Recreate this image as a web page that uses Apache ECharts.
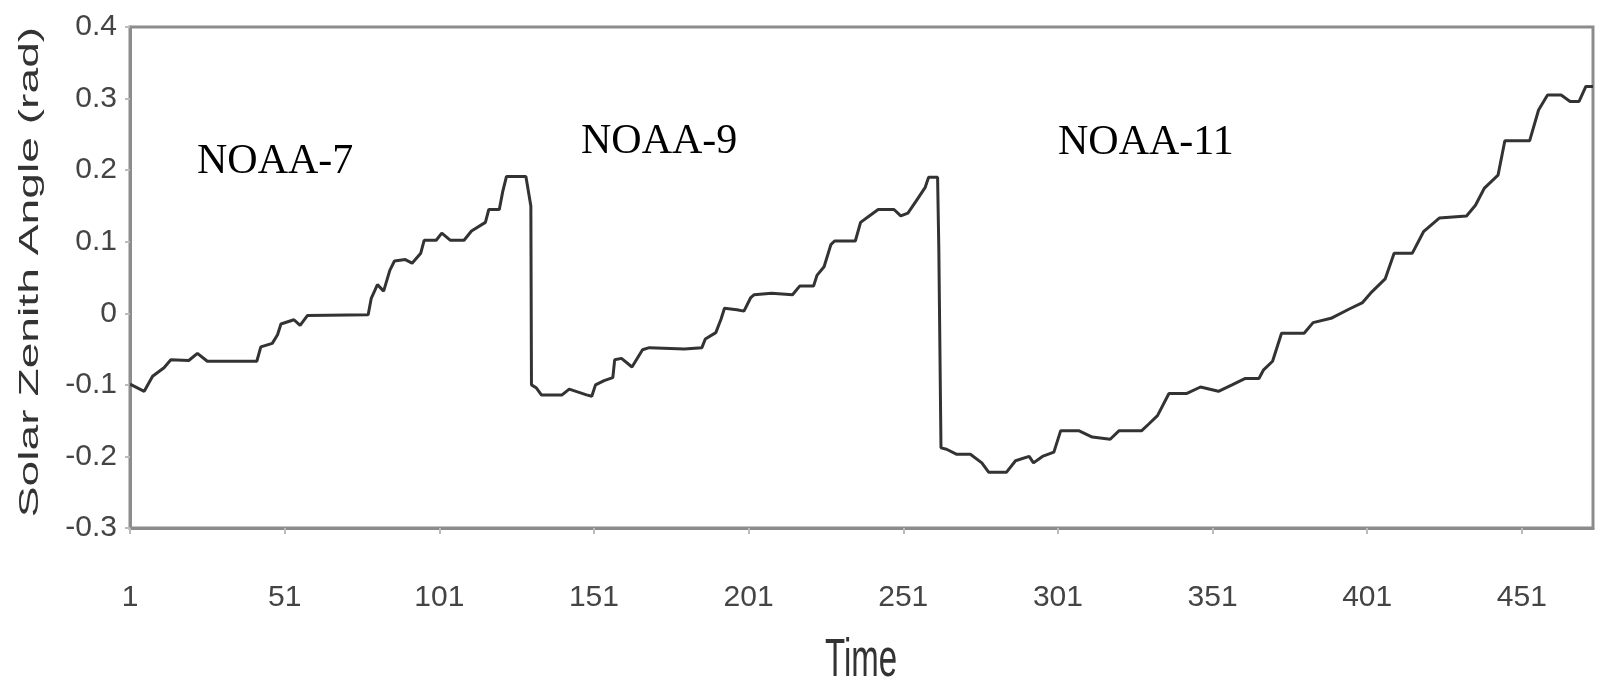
<!DOCTYPE html>
<html>
<head>
<meta charset="utf-8">
<script src="https://cdn.jsdelivr.net/npm/echarts@6/dist/echarts.min.js"></script>
<style>
    html, body { margin: 0; padding: 0; background: #fff; }
    #chart { width: 1606px; height: 681px; }
</style>
</head>
<body>
<div id="chart"></div>
<script>

// time step (x) and solar zenith angle (y) at each vertex of the trace
var timeSteps = [
    1, 5.6, 8.3, 12, 14.2, 20, 22.8, 26, 42, 43.3, 47, 48.7, 49.8, 54, 56, 58.4, 78, 79, 81, 83,
    85, 86.5, 90, 92.2, 95, 96.1, 100, 101.8, 104.6, 109, 111.4, 115.9, 117, 120.4, 121.5, 122.7, 129, 130.6, 130.8,
    132.3, 134, 140.7, 143, 148.6, 150.3, 151.5, 154.3, 157.1, 157.7, 159.9, 163.3, 166.7, 168.9, 180.2, 185.9, 187, 190.4, 192.1, 193.2,
    197.2, 199.5, 201.7, 202.8, 208.4, 215.2, 217.5, 222, 223.1, 225.4, 227.6, 228.8, 235.5, 237.2, 240, 242.9, 248, 250.2, 252.5, 255.2,
    258.1, 259.2, 262.1, 262.5, 263.2,
    265, 268.3, 272.7, 276.4, 278.6, 284.4, 287.3, 291.7, 293.1, 296, 299.7, 301.9, 307.7, 312.1, 317.9, 320.8, 328.1, 330.3, 333.2, 336.9,
    342.7, 347.1, 352.9, 357.3, 361.6, 366, 367.5, 370.4, 373.3, 380.6, 383.5, 389.3, 395.2, 399.5, 402.5, 406.8, 409.7, 415.6, 419.2, 424.3,
    433.1, 436, 438.9, 443.3, 445.5, 453.5, 456.4, 459.3, 463.7, 466.6, 469.5, 471.7, 474
];

var zenithAngles = [
    -0.099, -0.109, -0.088, -0.076, -0.065, -0.066, -0.056, -0.067, -0.067, -0.047, -0.042, -0.030, -0.015, -0.009, -0.017, -0.003, -0.002, 0.021, 0.040, 0.031,
    0.060, 0.073, 0.075, 0.070, 0.084, 0.102, 0.102, 0.112, 0.102, 0.102, 0.115, 0.127, 0.145, 0.145, 0.170, 0.191, 0.191, 0.150, -0.100,
    -0.104, -0.114, -0.114, -0.106, -0.114, -0.116, -0.100, -0.094, -0.090, -0.065, -0.063, -0.075, -0.051, -0.048, -0.050, -0.048, -0.036, -0.027, -0.008, 0.007,
    0.005, 0.003, 0.022, 0.026, 0.028, 0.026, 0.038, 0.038, 0.053, 0.065, 0.096, 0.101, 0.101, 0.127, 0.136, 0.145, 0.145, 0.136, 0.140, 0.157,
    0.176, 0.190, 0.190, 0.090, -0.188,
    -0.190, -0.197, -0.197, -0.209, -0.222, -0.222, -0.206, -0.200, -0.209, -0.200, -0.194, -0.164, -0.164, -0.173, -0.176, -0.164, -0.164, -0.155, -0.143, -0.112,
    -0.112, -0.103, -0.109, -0.100, -0.091, -0.091, -0.079, -0.067, -0.028, -0.028, -0.013, -0.007, 0.006, 0.015, 0.030, 0.048, 0.084, 0.084, 0.114, 0.133,
    0.136, 0.151, 0.175, 0.193, 0.241, 0.241, 0.284, 0.305, 0.305, 0.296, 0.296, 0.317, 0.317
];

var timeTicks = [1, 51, 101, 151, 201, 251, 301, 351, 401, 451];

var satelliteNames = ['NOAA-7', 'NOAA-9', 'NOAA-11'];
var satelliteLabelPos = [[197, 162], [581, 142], [1058, 143]];

var chart = echarts.init(document.getElementById('chart'));

var tickFont = {
    fontFamily: '"Liberation Sans", Arial, sans-serif',
    fontSize: 30,
    color: '#444'
};

var graphics = satelliteNames.map(function (name, i) {
    return {
        type: 'text',
        x: satelliteLabelPos[i][0],
        y: satelliteLabelPos[i][1],
        style: {
            text: name,
            font: '42px "Liberation Serif", "Times New Roman", serif',
            fill: '#000',
            align: 'left', verticalAlign: 'middle',
            textAlign: 'left', textVerticalAlign: 'middle'
        }
    };
});

// axis titles, stretched like in the scanned figure
graphics.push({
    type: 'text',
    x: 30, y: 272,
    rotation: Math.PI / 2,
    scaleX: 1.65,
    style: {
        text: 'Solar Zenith Angle (rad)',
        font: '28px "Liberation Sans", Arial, sans-serif',
        fill: '#333',
        align: 'center', verticalAlign: 'middle',
        textAlign: 'center', textVerticalAlign: 'middle'
    }
});
graphics.push({
    type: 'text',
    x: 861, y: 661,
    scaleY: 1.6,
    style: {
        text: 'Time',
        font: '33px "Liberation Sans", Arial, sans-serif',
        fill: '#333',
        align: 'center', verticalAlign: 'middle',
        textAlign: 'center', textVerticalAlign: 'middle'
    }
});

var option = {
    animation: false,
    backgroundColor: '#fff',
    grid: {
        left: 130, right: 13, top: 27, bottom: 153,
        show: true,
        borderColor: '#8c8c8c',
        borderWidth: 3
    },
    xAxis: {
        type: 'value',
        min: 1,
        max: 474,
        axisLine: { show: true, onZero: false, lineStyle: { color: '#8c8c8c', width: 3 } },
        axisTick: { show: true, length: 6, customValues: timeTicks, lineStyle: { color: '#bbb', width: 2 } },
        axisLabel: Object.assign({ customValues: timeTicks, margin: 55 }, tickFont),
        splitLine: { show: false }
    },
    yAxis: {
        type: 'value',
        min: -0.3,
        max: 0.4,
        interval: 0.1,
        axisLine: { show: true, lineStyle: { color: '#8c8c8c', width: 3 } },
        axisTick: { show: true, length: 5, lineStyle: { color: '#bbb', width: 2 } },
        axisLabel: Object.assign({ margin: 13 }, tickFont),
        splitLine: { show: false }
    },
    graphic: graphics,
    series: [
        {
            type: 'line',
            data: timeSteps.map(function (t, i) { return [t, zenithAngles[i]]; }),
            showSymbol: false,
            lineStyle: { color: '#333', width: 3 }
        }
    ]
};

chart.setOption(option);

</script>
</body>
</html>
